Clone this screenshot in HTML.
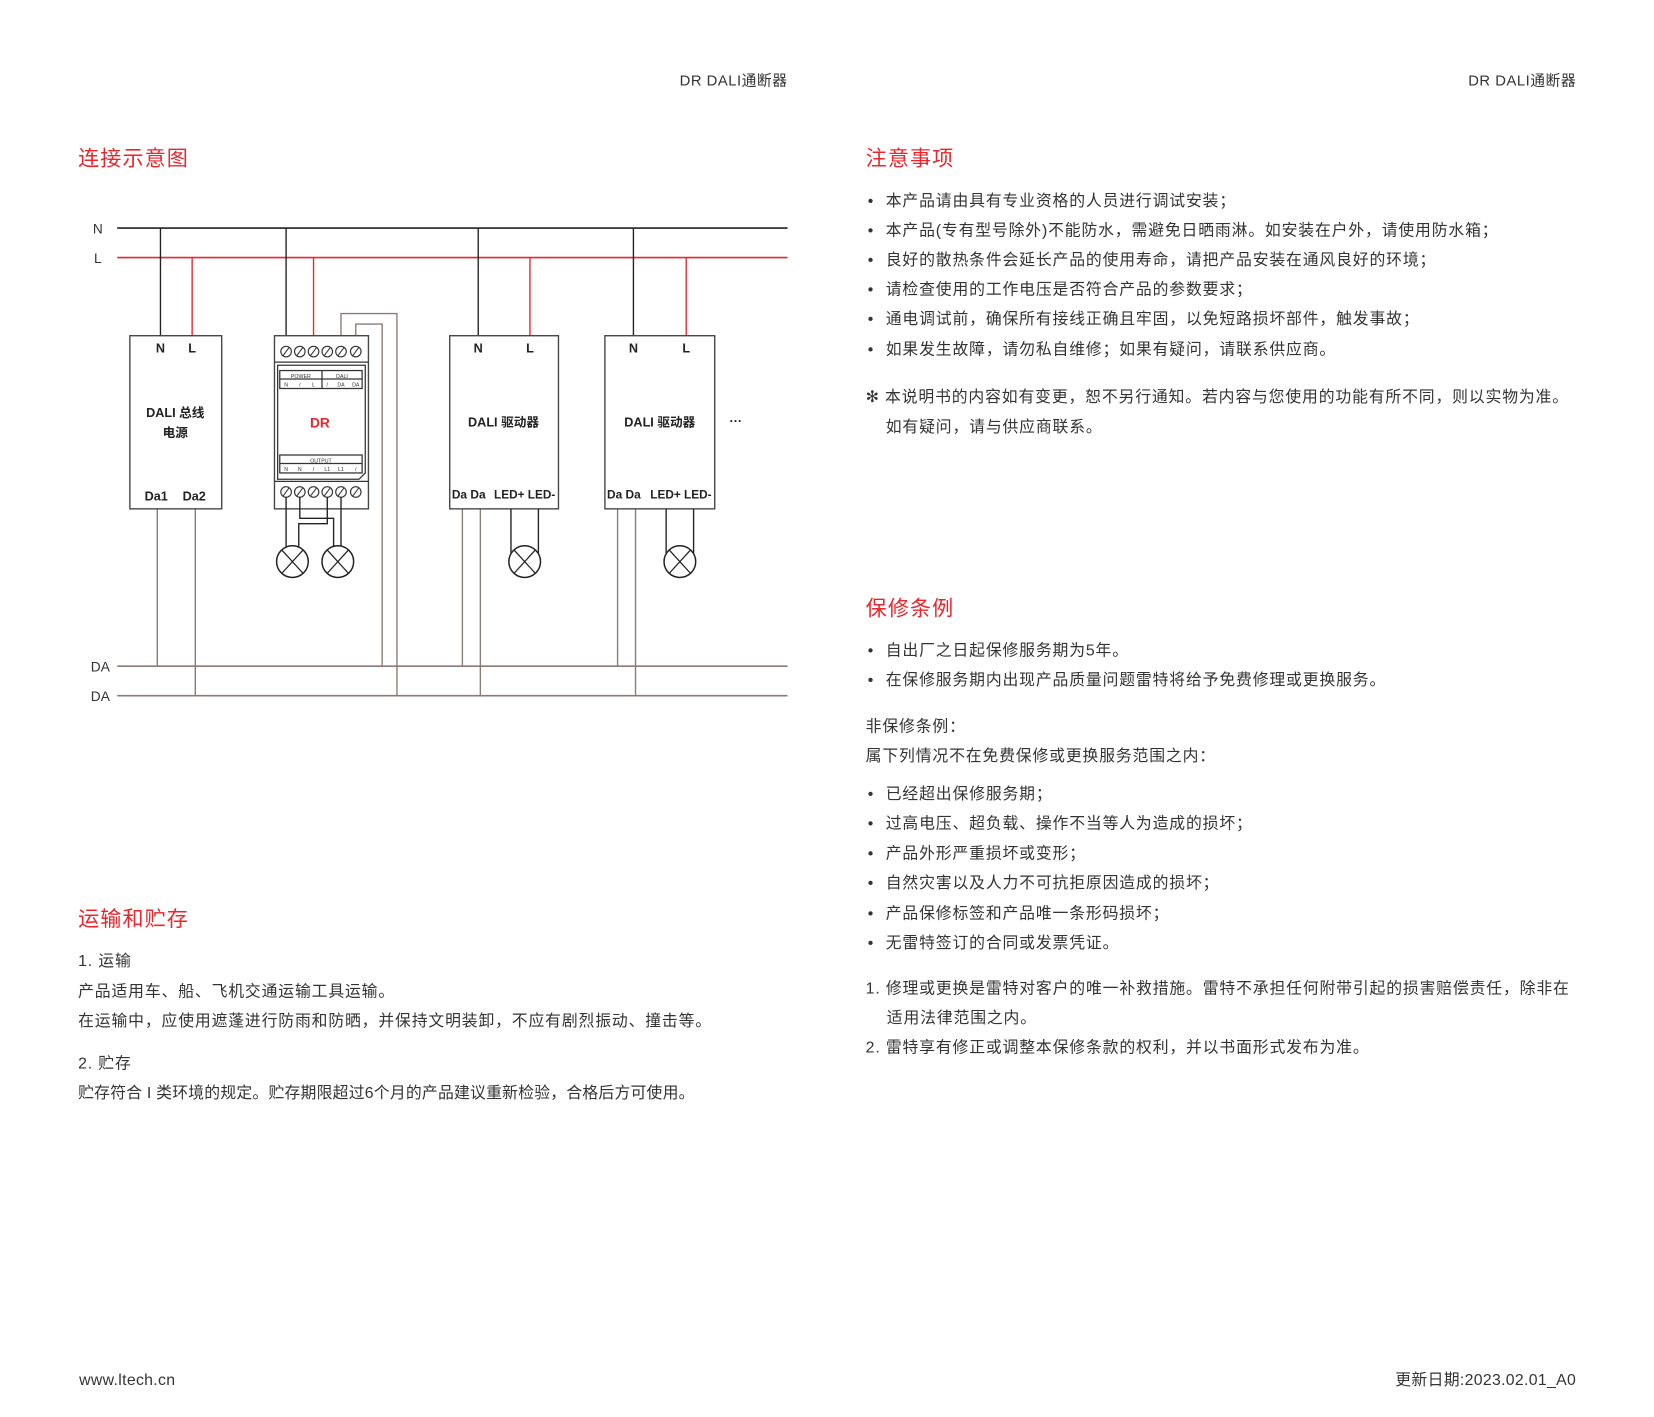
<!DOCTYPE html>
<html><head><meta charset="utf-8">
<style>
html,body{margin:0;padding:0;background:#fff;}
body{width:1654px;height:1417px;overflow:hidden;position:relative;}
#w{position:absolute;left:0;top:0;width:1560px;height:1336px;transform:scale(1.0557);transform-origin:0 0;font-family:"Liberation Sans","Noto Sans CJK SC",sans-serif;color:#333;}
.t{position:absolute;white-space:nowrap;font-size:15px;line-height:20px;letter-spacing:0.8px;margin-top:1.5px;}
.h{position:absolute;white-space:nowrap;font-size:20px;line-height:24px;color:#e8262c;letter-spacing:1px;margin-top:1px;}
.b{position:absolute;white-space:nowrap;font-size:15px;line-height:20px;letter-spacing:0.8px;margin-top:1.5px;}
.b:before{content:"•";position:absolute;left:-17px;}
svg{position:absolute;left:0;top:0;}
</style></head><body><div id="w">
<div class="t" style="right:814px;top:64px;font-size:14px;letter-spacing:0.5px">DR DALI通断器</div>
<div class="t" style="right:67px;top:64px;font-size:14px;letter-spacing:0.5px">DR DALI通断器</div>

<div class="h" style="left:74px;top:138px">连接示意图</div>
<div class="h" style="left:820px;top:138px">注意事项</div>
<div class="h" style="left:820px;top:564px">保修条例</div>
<div class="h" style="left:74px;top:858px">运输和贮存</div>

<svg width="760" height="700" viewBox="0 0 760 700" style="left:0;top:0">
<g font-family="Liberation Sans, Noto Sans CJK SC, sans-serif">
<text x="88" y="221" font-size="13" fill="#333">N</text>
<text x="89" y="249" font-size="13" fill="#333">L</text>
<text x="86" y="636" font-size="13" fill="#333">DA</text>
<text x="86" y="664" font-size="13" fill="#333">DA</text>
</g>
<line x1="111" y1="216" x2="746" y2="216" stroke="#222" stroke-width="1.5"/>
<line x1="111" y1="244" x2="746" y2="244" stroke="#e8262c" stroke-width="1.5"/>
<line x1="111" y1="631" x2="746" y2="631" stroke="#8a7b75" stroke-width="1.5"/>
<line x1="111" y1="659" x2="746" y2="659" stroke="#8a7b75" stroke-width="1.5"/>
<g stroke="#222" stroke-width="1.3" fill="none">
<line x1="152" y1="216" x2="152" y2="318"/>
<line x1="271" y1="216" x2="271" y2="328"/>
<line x1="453" y1="216" x2="453" y2="318"/>
<line x1="600" y1="216" x2="600" y2="318"/>
</g>
<g stroke="#e8262c" stroke-width="1.3" fill="none">
<line x1="182" y1="244" x2="182" y2="318"/>
<line x1="297" y1="244" x2="297" y2="328"/>
<line x1="502" y1="244" x2="502" y2="318"/>
<line x1="650" y1="244" x2="650" y2="318"/>
</g>
<g stroke="#8a7b75" stroke-width="1.3" fill="none">
<line x1="149" y1="482" x2="149" y2="631"/>
<line x1="185" y1="482" x2="185" y2="659"/>
<polyline points="323,328 323,297 376,297 376,659"/>
<polyline points="337,328 337,307 362,307 362,631"/>
<line x1="438" y1="482" x2="438" y2="631"/>
<line x1="455" y1="482" x2="455" y2="659"/>
<line x1="585" y1="482" x2="585" y2="631"/>
<line x1="602" y1="482" x2="602" y2="659"/>
</g>
<g stroke="#444" stroke-width="1.3" fill="#fff">
<rect x="123" y="318" width="87" height="164"/>
<rect x="426" y="318" width="103" height="164"/>
<rect x="573" y="318" width="104" height="164"/>
<rect x="260" y="318" width="89" height="164"/>
</g>
<g stroke="#333" stroke-width="1.2" fill="none">
<line x1="260" y1="343" x2="349" y2="343"/>
<line x1="260" y1="456" x2="349" y2="456"/>
<path d="M263 346 H346 V448 L340 454 H263 Z"/>
<rect x="265" y="351" width="78" height="17"/>
<line x1="265" y1="359" x2="343" y2="359"/>
<line x1="305" y1="351" x2="305" y2="368"/>
<rect x="265" y="431" width="78" height="17"/>
<line x1="265" y1="439" x2="343" y2="439"/>
</g>
<g font-family="Liberation Sans, sans-serif" font-size="5" fill="#333" text-anchor="middle">
<text x="285" y="358">POWER</text><text x="324" y="358">DALI</text>
<text x="304" y="438">OUTPUT</text>
<text x="271" y="366">N</text><text x="284" y="366">/</text><text x="297" y="366">L</text><text x="310" y="366">/</text><text x="323" y="366">DA</text><text x="337" y="366">DA</text>
<text x="271" y="446">N</text><text x="284" y="446">N</text><text x="297" y="446">/</text><text x="310" y="446">L1</text><text x="323" y="446">L1</text><text x="337" y="446">/</text>
</g>
<g stroke="#333" stroke-width="1.1" fill="#fff">
<circle cx="271" cy="333" r="5"/><circle cx="284" cy="333" r="5"/><circle cx="297" cy="333" r="5"/><circle cx="310" cy="333" r="5"/><circle cx="323" cy="333" r="5"/><circle cx="337" cy="333" r="5"/>
<circle cx="271" cy="466" r="5"/><circle cx="284" cy="466" r="5"/><circle cx="297" cy="466" r="5"/><circle cx="310" cy="466" r="5"/><circle cx="323" cy="466" r="5"/><circle cx="337" cy="466" r="5"/>
</g>
<g stroke="#333" stroke-width="1">
<line x1="268" y1="337" x2="274" y2="329"/><line x1="281" y1="337" x2="287" y2="329"/><line x1="294" y1="337" x2="300" y2="329"/><line x1="307" y1="337" x2="313" y2="329"/><line x1="320" y1="337" x2="326" y2="329"/><line x1="334" y1="337" x2="340" y2="329"/>
<line x1="268" y1="470" x2="274" y2="462"/><line x1="281" y1="470" x2="287" y2="462"/><line x1="294" y1="470" x2="300" y2="462"/><line x1="307" y1="470" x2="313" y2="462"/><line x1="320" y1="470" x2="326" y2="462"/><line x1="334" y1="470" x2="340" y2="462"/>
</g>
<g stroke="#222" stroke-width="1.3" fill="none">
<polyline points="271,471 271,521"/>
<polyline points="284,471 284,491 316,491 316,519"/>
<polyline points="310,471 310,496 283,496 283,518"/>
<polyline points="323,471 323,519"/>
<line x1="484" y1="482" x2="484" y2="524"/><line x1="510" y1="482" x2="510" y2="524"/>
<line x1="631" y1="482" x2="631" y2="524"/><line x1="657" y1="482" x2="657" y2="524"/>
</g>
<g stroke="#222" stroke-width="1.4" fill="#fff">
<circle cx="277" cy="532" r="15"/><circle cx="320" cy="532" r="15"/><circle cx="497" cy="532" r="15"/><circle cx="644" cy="532" r="15"/>
</g>
<g stroke="#222" stroke-width="1.2">
<line x1="267" y1="521" x2="287" y2="543"/><line x1="287" y1="521" x2="267" y2="543"/>
<line x1="310" y1="521" x2="330" y2="543"/><line x1="330" y1="521" x2="310" y2="543"/>
<line x1="487" y1="521" x2="507" y2="543"/><line x1="507" y1="521" x2="487" y2="543"/>
<line x1="634" y1="521" x2="654" y2="543"/><line x1="654" y1="521" x2="634" y2="543"/>
</g>
<g font-family="Liberation Sans, Noto Sans CJK SC, sans-serif" font-size="12" font-weight="bold" fill="#222" text-anchor="middle">
<text x="152" y="334">N</text><text x="182" y="334">L</text>
<text x="166" y="395">DALI 总线</text><text x="166" y="414">电源</text>
<text x="148" y="474">Da1</text><text x="184" y="474">Da2</text>
<text x="453" y="334">N</text><text x="502" y="334">L</text>
<text x="477" y="404">DALI 驱动器</text>
<text x="444" y="472" font-size="11" textLength="32" lengthAdjust="spacingAndGlyphs">Da Da</text><text x="497" y="472" font-size="11" textLength="58" lengthAdjust="spacingAndGlyphs">LED+ LED-</text>
<text x="600" y="334">N</text><text x="650" y="334">L</text>
<text x="625" y="404">DALI 驱动器</text>
<text x="591" y="472" font-size="11" textLength="32" lengthAdjust="spacingAndGlyphs">Da Da</text><text x="645" y="472" font-size="11" textLength="58" lengthAdjust="spacingAndGlyphs">LED+ LED-</text>
<text x="697" y="403">···</text>
<text x="303" y="405" fill="#e8262c" font-size="13">DR</text>
</g>
</svg>

<div class="b" style="left:839px;top:179px">本产品请由具有专业资格的人员进行调试安装；</div>
<div class="b" style="left:839px;top:207px">本产品(专有型号除外)不能防水，需避免日晒雨淋。如安装在户外，请使用防水箱；</div>
<div class="b" style="left:839px;top:235px">良好的散热条件会延长产品的使用寿命，请把产品安装在通风良好的环境；</div>
<div class="b" style="left:839px;top:263px">请检查使用的工作电压是否符合产品的参数要求；</div>
<div class="b" style="left:839px;top:291px">通电调试前，确保所有接线正确且牢固，以免短路损坏部件，触发事故；</div>
<div class="b" style="left:839px;top:320px">如果发生故障，请勿私自维修；如果有疑问，请联系供应商。</div>
<div class="t" style="left:820px;top:365px">✻ 本说明书的内容如有变更，恕不另行通知。若内容与您使用的功能有所不同，则以实物为准。</div>
<div class="t" style="left:839px;top:393px">如有疑问，请与供应商联系。</div>

<div class="b" style="left:839px;top:605px">自出厂之日起保修服务期为5年。</div>
<div class="b" style="left:839px;top:633px">在保修服务期内出现产品质量问题雷特将给予免费修理或更换服务。</div>
<div class="t" style="left:820px;top:677px">非保修条例：</div>
<div class="t" style="left:820px;top:705px">属下列情况不在免费保修或更换服务范围之内：</div>
<div class="b" style="left:839px;top:741px">已经超出保修服务期；</div>
<div class="b" style="left:839px;top:769px">过高电压、超负载、操作不当等人为造成的损坏；</div>
<div class="b" style="left:839px;top:797px">产品外形严重损坏或变形；</div>
<div class="b" style="left:839px;top:825px">自然灾害以及人力不可抗拒原因造成的损坏；</div>
<div class="b" style="left:839px;top:854px">产品保修标签和产品唯一条形码损坏；</div>
<div class="b" style="left:839px;top:882px">无雷特签订的合同或发票凭证。</div>
<div class="t" style="left:820px;top:925px">1. 修理或更换是雷特对客户的唯一补救措施。雷特不承担任何附带引起的损害赔偿责任，除非在</div>
<div class="t" style="left:840px;top:953px">适用法律范围之内。</div>
<div class="t" style="left:820px;top:981px">2. 雷特享有修正或调整本保修条款的权利，并以书面形式发布为准。</div>

<div class="t" style="left:74px;top:899px">1. 运输</div>
<div class="t" style="left:74px;top:928px">产品适用车、船、飞机交通运输工具运输。</div>
<div class="t" style="left:74px;top:956px">在运输中，应使用遮蓬进行防雨和防晒，并保持文明装卸，不应有剧烈振动、撞击等。</div>
<div class="t" style="left:74px;top:996px">2. 贮存</div>
<div class="t" style="left:74px;top:1024px;letter-spacing:0.2px">贮存符合 I 类环境的规定。贮存期限超过6个月的产品建议重新检验，合格后方可使用。</div>

<div class="t" style="left:75px;top:1296px;letter-spacing:0.3px">www.ltech.cn</div>
<div class="t" style="right:67px;top:1296px;letter-spacing:0.3px">更新日期:2023.02.01_A0</div>
</div></body></html>
